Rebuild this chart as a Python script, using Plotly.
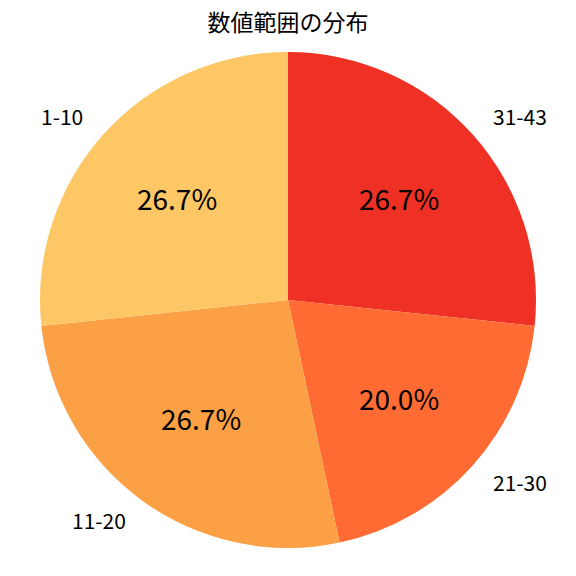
import math
import plotly.graph_objects as go

labels = ["1-10", "11-20", "21-30", "31-43"]
values = [4, 4, 3, 4]
colors = ["#FDC766", "#FCA045", "#FF6B33", "#EE3124"]
title = "数値範囲の分布"

FONT = "Noto Sans CJK JP"
W = H = 576
cx_px, cy_px, r_px = 288, 300, 248

# slices run counterclockwise from 12 o'clock; plotly draws them clockwise from the
# list order, so feed the lists reversed with clockwise direction
fig = go.Figure(go.Pie(
    labels=labels[::-1], values=values[::-1], sort=False, direction="clockwise",
    rotation=0, marker=dict(colors=colors[::-1], line=dict(width=0)),
    textinfo="none", hoverinfo="label+percent", showlegend=False,
    domain=dict(x=[(cx_px - r_px) / W, (cx_px + r_px) / W],
                y=[1 - (cy_px + r_px) / H, 1 - (cy_px - r_px) / H]),
))

total = sum(values)
ann = []
start = 90.0
for lab, v in zip(labels, values):
    span = 360.0 * v / total
    mid = math.radians(start + span / 2)
    start += span
    c, s = math.cos(mid), math.sin(mid)
    ann.append(dict(x=(cx_px + 0.6 * r_px * c) / W, y=1 - (cy_px - 0.6 * r_px * s - 2) / H,
                    xref="paper", yref="paper", text=f"{100 * v / total:.1f}%",
                    showarrow=False, xanchor="center", yanchor="middle",
                    font=dict(family=FONT, size=28, color="black")))
    ann.append(dict(x=(cx_px + 1.1 * r_px * c) / W, y=1 - (cy_px - 1.1 * r_px * s - 1) / H,
                    xref="paper", yref="paper", text=lab, showarrow=False,
                    xanchor="right" if c < 0 else "left", yanchor="middle",
                    font=dict(family=FONT, size=21, color="black")))

fig.update_layout(
    width=W, height=H, margin=dict(l=0, r=0, t=0, b=0),
    paper_bgcolor="white", plot_bgcolor="white",
    title=dict(text=title, x=0.5, xanchor="center", y=1 - 23 / H, yanchor="middle",
               font=dict(family=FONT, size=23, color="black")),
    annotations=ann,
)
fig.write_html("out.html", config={"displayModeBar": False},
               post_script="document.body.style.margin='0';")
